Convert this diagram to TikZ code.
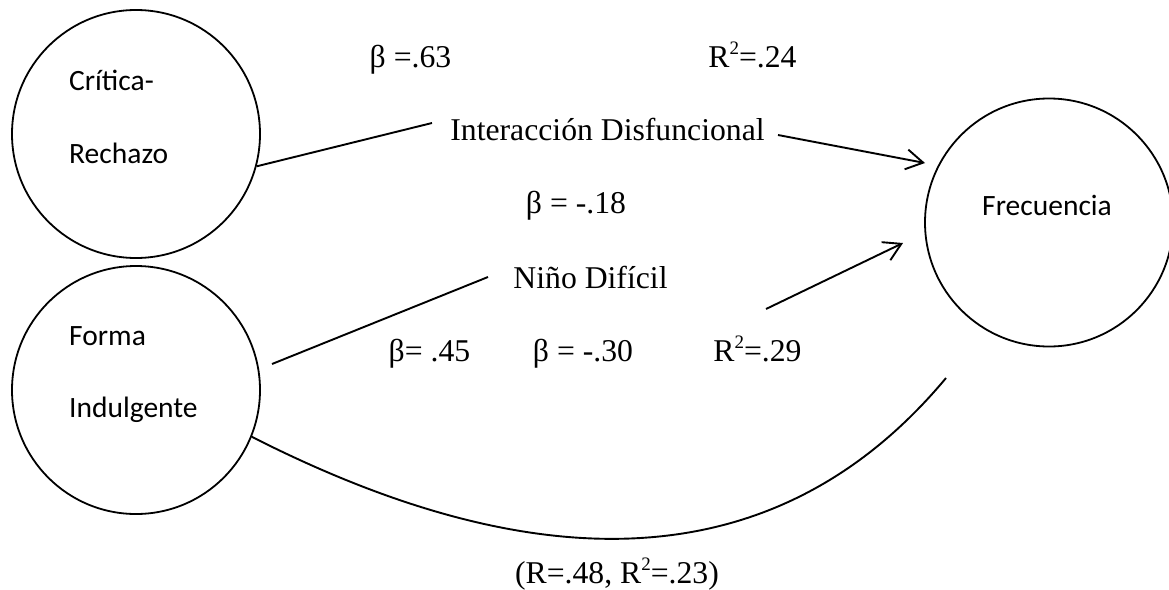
\documentclass[tikz,border=0pt]{standalone}
\usepackage{fontspec}
\setmainfont{Liberation Serif}
\newfontfamily\calfont{Carlito}
\usetikzlibrary{arrows.meta}
\newcommand\suptwo{\raisebox{0.38em}{\fontsize{19}{20}\selectfont 2}}
\begin{document}
\begin{tikzpicture}[x=1pt,y=-1pt,
  every node/.style={inner sep=0pt},
  var/.style={draw, circle, line width=1.8pt, minimum size=248pt},
  tlab/.style={font=\fontsize{31.7}{36}\selectfont, anchor=base},
  clab/.style={font=\calfont\fontsize{29.5}{34}\selectfont, anchor=base west},
  conn/.style={line width=1.9pt},
  arr/.style={conn, -{Straight Barb[length=17pt,width=20pt]}}]
\useasboundingbox (0,0) rectangle (1169,589);
% variables
\node[var] (crit) at (136,134) {};
\node[var] (forma) at (136,390) {};
\node[var] (frec) at (1049,222.5) {};
\node[clab] (tcrit1) at (69,90) {Crítica-};
\node[clab] (tcrit2) at (69,163) {Rechazo};
\node[clab] (tforma1) at (69,345) {Forma};
\node[clab] (tforma2) at (69,417) {Indulgente};
\node[clab] (tfrec) at (982,215) {Frecuencia};
% mediator labels and coefficients
\node[tlab] (inter) at (607.5,140) {Interacción Disfuncional};
\node[tlab] (nino) at (590.5,288) {Niño Difícil};
\node[tlab] (b63) at (410.5,67) {β =.63};
\node[tlab] (r24) at (752.5,67) {R\suptwo=.24};
\node[tlab] (b18) at (576,213) {β = -.18};
\node[tlab] (b45) at (429.5,361) {β= .45};
\node[tlab] (b30) at (583,361) {β = -.30};
\node[tlab] (r29) at (757.5,361) {R\suptwo=.29};
\node[tlab] (r48) at (617,583) {(R=.48, R\suptwo=.23)};
% connector end points
\coordinate (l1e) at (432,123);
\coordinate (a1s) at (778,135);
\coordinate (a1e) at (925,163);
\coordinate (l2s) at (272,364);
\coordinate (l2e) at (488,277);
\coordinate (a2s) at (766,309);
\coordinate (a2e) at (903,243);
\coordinate (c3e) at (946,378);
% connectors
\draw[conn] (crit.-15) -- (l1e);
\draw[arr] (a1s) -- (a1e);
\draw[conn] (l2s) -- (l2e);
\draw[arr] (a2s) -- (a2e);
\draw[conn] (forma.-22) .. controls (502,564) and (760,601) .. (c3e);
\end{tikzpicture}
\end{document}
